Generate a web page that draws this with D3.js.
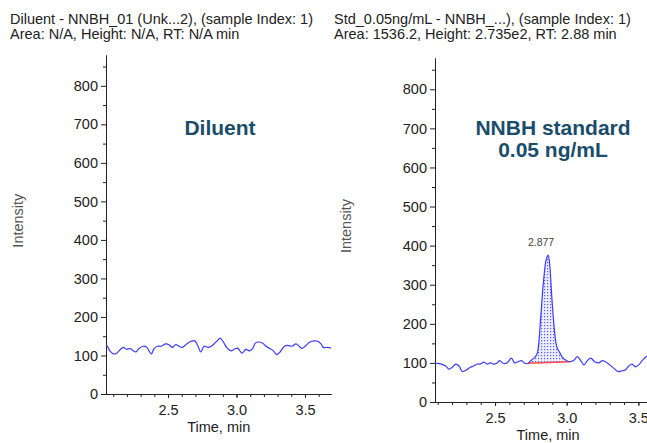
<!DOCTYPE html>
<html>
<head>
<meta charset="utf-8">
<script src="https://cdn.jsdelivr.net/npm/d3@7"></script>
<style>
  body { margin: 0; background: #fff; }
  svg { font-family: "Liberation Sans", Arial, sans-serif; }
  .axis path, .axis line { stroke: #222; }
  .axis text { font-size: 14.5px; fill: #222; font-family: "Liberation Sans", Arial, sans-serif; }
</style>
</head>
<body>
<div id="chart-area"></div>
<script>
// Data

// Diluent trace (time in min, intensity)
let diluentTime = [2.050, 2.057, 2.077, 2.101, 2.126, 2.150, 2.174, 2.199, 2.223, 2.247, 2.264, 2.288,
  2.320, 2.345, 2.361, 2.378, 2.398, 2.422, 2.451, 2.483, 2.507, 2.531, 2.556, 2.580, 2.604, 2.636,
  2.670, 2.695, 2.719, 2.739, 2.763, 2.792, 2.816, 2.841, 2.860, 2.880, 2.904, 2.928, 2.960, 2.984,
  3.009, 3.040, 3.069, 3.093, 3.118, 3.137, 3.162, 3.191, 3.215, 3.239, 3.269, 3.293, 3.318, 3.349,
  3.374, 3.405, 3.434, 3.458, 3.478, 3.507, 3.536, 3.568, 3.593, 3.617, 3.634, 3.666, 3.690]
let diluentIntensity = [126, 124, 111, 104, 106, 115, 121, 116, 118, 112, 109, 118,
  124, 121, 112, 104, 118, 124, 124, 130, 128, 121, 128, 124, 121, 130,
  137, 138, 124, 109, 124, 121, 124, 132, 138, 145, 135, 121, 112, 116,
  119, 106, 116, 112, 118, 132, 135, 132, 124, 119, 112, 102, 109, 124,
  126, 124, 130, 124, 118, 126, 135, 138, 137, 130, 121, 121, 119]

// Standard 0.05 ng/mL trace
let stdTime = [2.081, 2.095, 2.125, 2.156, 2.179, 2.202, 2.226, 2.249, 2.272, 2.300, 2.328, 2.351,
  2.374, 2.397, 2.421, 2.444, 2.467, 2.491, 2.514, 2.533, 2.556, 2.584, 2.614, 2.637, 2.661, 2.684,
  2.707, 2.730, 2.753, 2.777, 2.795, 2.805, 2.819, 2.837, 2.856, 2.870, 2.879, 2.896, 2.912, 2.931,
  2.954, 2.975, 2.998, 3.021, 3.051, 3.074, 3.098, 3.121, 3.144, 3.168, 3.196, 3.224, 3.247, 3.270,
  3.300, 3.330, 3.358, 3.386, 3.409, 3.433, 3.456, 3.479, 3.503, 3.526, 3.549, 3.561]
let stdIntensity = [99, 99, 97, 92, 84, 89, 97, 92, 78, 82, 89, 92,
  97, 97, 102, 97, 100, 97, 100, 106, 99, 100, 112, 100, 103, 106,
  99, 99, 107, 114, 125, 150, 218, 304, 363, 376, 360, 269, 193, 141,
  125, 112, 106, 103, 107, 116, 106, 95, 106, 112, 103, 100, 106, 103,
  95, 86, 78, 80, 82, 92, 97, 90, 95, 106, 114, 118]

// integrated peak
let peakRT = 2.877
let peakLabel = '2.877'
let baselineTime = [2.730, 3.021]
let baselineIntensity = [99, 103]

// axis ticks
let yTicks = [0, 100, 200, 300, 400, 500, 600, 700, 800]
let xTicks = [2.5, 3.0, 3.5]

let headers = [
  ['Diluent - NNBH_01 (Unk...2), (sample Index: 1)', 'Area: N/A, Height: N/A, RT: N/A min'],
  ['Std_0.05ng/mL - NNBH_...), (sample Index: 1)', 'Area: 1536.2, Height: 2.735e2, RT: 2.88 min']
]
let titles = [['Diluent'], ['NNBH standard', '0.05 ng/mL']]

let svg = d3.select('#chart-area').append('svg')
  .attr('width', 647)
  .attr('height', 443)

// dotted fill for the integrated area
let pattern = svg.append('defs').append('pattern')
  .attr('id', 'dots')
  .attr('width', 3)
  .attr('height', 3)
  .attr('patternUnits', 'userSpaceOnUse')
pattern.append('rect').attr('width', 3).attr('height', 3).attr('fill', '#eceeff')
pattern.append('rect').attr('x', 1).attr('y', 1).attr('width', 1.2).attr('height', 1.2).attr('fill', '#5a5aff')

// panel layouts
let panels = [
  { left: 106, right: 331, top: 55, bottom: 394, xDomain: [2.047, 3.690], headerX: 10, titleX: 220,
    time: diluentTime, values: diluentIntensity, labelX: 18, timeLabelY: 432 },
  { left: 435, right: 660, top: 58, bottom: 402, xDomain: [2.081, 3.651], headerX: 334, titleX: 553,
    time: stdTime, values: stdIntensity, labelX: 346, timeLabelY: 440 }
]

panels.forEach((p, i) => {
  let x = d3.scaleLinear().domain(p.xDomain).range([p.left, p.right])
  let y = d3.scaleLinear().domain([0, 880]).range([p.bottom, p.top])
  let data = p.time.map((t, k) => ({ t: t, v: p.values[k] }))

  // header text
  headers[i].forEach((line, k) => {
    svg.append('text')
      .attr('x', p.headerX)
      .attr('y', 24 + k * 15)
      .attr('font-size', '14.5px')
      .attr('fill', '#222')
      .text(line)
  })

  // minor ticks
  svg.append('g')
    .attr('class', 'axis')
    .attr('transform', 'translate(' + p.left + ',0)')
    .call(d3.axisLeft(y).tickValues(d3.range(50, 880, 100)).tickSize(3).tickSizeOuter(0).tickFormat(''))
  svg.append('g')
    .attr('class', 'axis')
    .attr('transform', 'translate(0,' + p.bottom + ')')
    .call(d3.axisBottom(x).tickValues(d3.range(2.1, 3.65, 0.1)).tickSize(3).tickSizeOuter(0).tickFormat(''))

  // major axes
  svg.append('g')
    .attr('class', 'axis')
    .attr('transform', 'translate(' + p.left + ',0)')
    .call(d3.axisLeft(y).tickValues(yTicks).tickSize(5).tickPadding(3).tickSizeOuter(0))
  svg.append('g')
    .attr('class', 'axis')
    .attr('transform', 'translate(0,' + p.bottom + ')')
    .call(d3.axisBottom(x).tickValues(xTicks).tickFormat(d3.format('.1f')).tickSize(4).tickPadding(7).tickSizeOuter(0))

  // axis titles
  svg.append('text')
    .attr('transform', 'translate(' + p.labelX + ',' + y(450) + ') rotate(-90)')
    .attr('text-anchor', 'middle')
    .attr('dy', '.35em')
    .attr('font-size', '14.5px')
    .attr('fill', '#555')
    .text('Intensity')
  svg.append('text')
    .attr('x', x(2.87))
    .attr('y', p.timeLabelY)
    .attr('text-anchor', 'middle')
    .attr('font-size', '14.5px')
    .attr('fill', '#222')
    .text('Time, min')

  // title
  titles[i].forEach((line, k) => {
    svg.append('text')
      .attr('x', p.titleX)
      .attr('y', 135 + k * 22)
      .attr('text-anchor', 'middle')
      .attr('font-size', '21px')
      .attr('font-weight', 'bold')
      .attr('fill', '#1a4d6b')
      .text(line)
  })

  // integrated peak (standard only)
  if (i == 1) {
    let base = d3.scaleLinear().domain(baselineTime).range(baselineIntensity)
    let inPeak = data.filter((d) => d.t >= baselineTime[0] && d.t <= baselineTime[1])
    let area = d3.area()
      .x((d) => x(d.t))
      .y0((d) => y(base(d.t)))
      .y1((d) => y(d.v))
      .curve(d3.curveCatmullRom)
    svg.append('path')
      .attr('d', area(inPeak))
      .attr('fill', 'url(#dots)')
    svg.append('line')
      .attr('x1', x(baselineTime[0])).attr('y1', y(baselineIntensity[0]))
      .attr('x2', x(baselineTime[1])).attr('y2', y(baselineIntensity[1]))
      .attr('stroke', '#ff4a4a')
      .attr('stroke-width', 1.5)
    svg.append('text')
      .attr('x', x(peakRT) - 8)
      .attr('y', y(d3.max(p.values)) - 9)
      .attr('text-anchor', 'middle')
      .attr('font-size', '10.5px')
      .attr('fill', '#444')
      .text(peakLabel)
  }

  // trace
  let line = d3.line()
    .x((d) => x(d.t))
    .y((d) => y(d.v))
    .curve(d3.curveCatmullRom)
  svg.append('path')
    .attr('d', line(data))
    .attr('fill', 'none')
    .attr('stroke', '#3c3cff')
    .attr('stroke-width', 1.2)
})
</script>
</body>
</html>
